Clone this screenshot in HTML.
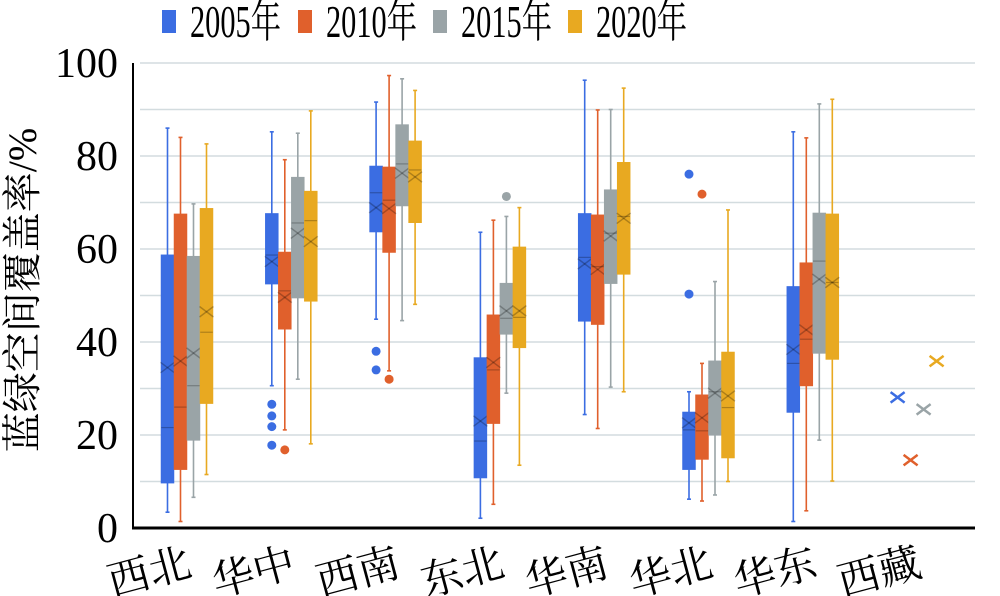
<!DOCTYPE html>
<html><head><meta charset="utf-8"><style>
html,body{margin:0;padding:0;background:#fff;}
svg{display:block;}
text{font-family:"Liberation Serif","Noto Serif CJK SC",serif;fill:#000;}
</style></head><body>
<svg id="chart" width="1000" height="596" viewBox="0 0 1000 596" xmlns="http://www.w3.org/2000/svg"></svg>
<script>
const categories = ["西北","华中","西南","东北","华南","华北","华东","西藏"];
const seriesNames = ["2005年","2010年","2015年","2020年"];
const colors = ["#3b6de2","#e0602c","#9aa4a7","#e8a921"];
const yTicks = [0,20,40,60,80,100];
// each series: per category [min,q1,median,q3,max,mean] (null box = mean only)
const s2005 = [[3.4,9.7,21.6,58.7,86,34.5],[30.6,52.5,58.7,67.6,85.2,57.3],[44.9,63.7,72.1,77.8,91.6,68.9],[2.1,10.8,18.7,36.6,63.6,23],[24.4,44.5,58.2,67.6,96.3,56.8],[6.2,12.6,21.1,24.9,29.3,22.6],[1.4,24.9,35.4,51.9,85.2,38.4],[null,null,null,null,null,28.1]];
const s2010 = [[1.4,12.6,26,67.5,84,35.9],[21.1,42.8,51,59.3,79.2,49.6],[33.8,59.3,70.5,77.6,97.3,68.7],[5.1,22.5,34,45.8,66.2,35.6],[21.4,43.8,56.2,67.3,89.9,55.6],[5.8,14.8,20.9,28.6,35.4,23.7],[3.7,30.6,40.6,57,83.9,42.6],[null,null,null,null,null,14.6]];
const s2015 = [[6.6,18.9,30.6,58.4,69.7,37.6],[32,49.5,65.6,75.4,84.9,63.4],[44.6,69.3,78.3,86.7,96.6,76.3],[29,41.7,45.1,52.6,67,46.7],[30.3,52.6,63.4,72.7,90,62.8],[7.1,20,29.3,35.9,53,29],[18.9,37.6,57.4,67.7,91.2,53.5],[null,null,null,null,null,25.5]];
const s2020 = [[11.5,26.8,42.1,68.7,82.6,46.5],[18.1,48.8,66.1,72.4,89.7,61.6],[48.1,65.7,77,83.2,94.1,75.5],[13.5,38.8,45.3,60.4,68.9,46.7],[29.3,54.6,67,78.6,94.6,66.6],[10,15.1,25.9,37.8,68.4,28.4],[10.1,36.3,52.8,67.5,92.2,52.8],[null,null,null,null,null,35.9]];
const o2005 = [[],[26.6,24.1,21.8,17.8],[38,34],[],[],[76.1,50.3],[],[]];
const o2010 = [[],[16.8],[32],[],[],[71.8],[],[]];
const o2015 = [[],[],[],[71.3],[],[],[],[]];
const o2020 = [[],[],[],[],[],[],[],[]];
const allSeries=[s2005,s2010,s2015,s2020];
const allOut=[o2005,o2010,o2015,o2020];

const svg=document.getElementById('chart');
const NS="http://www.w3.org/2000/svg";
const X0=140,X1=975,Y0=528,Y1=63;
const y=v=>Y0-(v-0)/(100-0)*(Y0-Y1);
const xc=i=>187+i*104.3;
const bw=12.5;
const off=k=>(k-1.5)*13;
function mk(tag,attrs,parent){const e=document.createElementNS(NS,tag);for(const k in attrs)e.setAttribute(k,attrs[k]);(parent||svg).appendChild(e);return e;}

const grid=mk('g',{});


for(let v=10;v<=100;v+=10){const l=mk('line',{x1:X0,x2:X1,y1:y(v),y2:y(v),stroke:'#d3dcdf','stroke-width':1.5},grid);

}
const ya=mk('line',{x1:133,x2:133,y1:Y1,y2:Y0+1,stroke:'#000','stroke-width':2});


const xa=mk('line',{x1:132,x2:X1,y1:Y0,y2:Y0,stroke:'#000','stroke-width':3});


yTicks.forEach(v=>{const t=mk('text',{x:118,y:y(v)+14,'text-anchor':'end','font-size':42});t.textContent=v;

});
const yt=mk('text',{x:0,y:0,'text-anchor':'middle','font-size':40,transform:'translate(36,290) rotate(-90)'});
yt.textContent='蓝绿空间覆盖率/%';


categories.forEach((c,i)=>{const t=mk('text',{x:0,y:0,'text-anchor':'middle','font-size':42,transform:`translate(${xc(i)-34},${586}) rotate(-15)`});t.textContent=c;

});

function cross(cx,cy,r,col,g,w){mk('line',{x1:cx-r,y1:cy-r*0.75,x2:cx+r,y2:cy+r*0.75,stroke:col,'stroke-width':w},g);mk('line',{x1:cx-r,y1:cy+r*0.75,x2:cx+r,y2:cy-r*0.75,stroke:col,'stroke-width':w},g);}

allSeries.forEach((ser,k)=>{
  const col=colors[k];
  ser.forEach((d,i)=>{
    const cx=xc(i)+off(k);
    const g=mk('g',{});
    
    
    if(d[0]!==null){
      mk('line',{x1:cx,x2:cx,y1:y(d[0]),y2:y(d[4]),stroke:col,'stroke-width':1.6},g);
      mk('line',{x1:cx-2,x2:cx+2,y1:y(d[0]),y2:y(d[0]),stroke:col,'stroke-width':1.6},g);
      mk('line',{x1:cx-2,x2:cx+2,y1:y(d[4]),y2:y(d[4]),stroke:col,'stroke-width':1.6},g);
      mk('rect',{x:cx-bw/2,y:y(d[3]),width:bw,height:y(d[1])-y(d[3]),fill:col,stroke:col,'stroke-width':1},g);
      mk('line',{x1:cx-bw/2,x2:cx+bw/2,y1:y(d[2]),y2:y(d[2]),stroke:'rgba(0,0,0,0.25)','stroke-width':1.2},g);
      cross(cx,y(d[5]),7,'rgba(0,0,0,0.25)',g,1.5);
    } else {
      cross(cx,y(d[5]),7,col,g,2.5);
    }
    allOut[k][i].forEach(v=>{const c=mk('circle',{cx:cx,cy:y(v),r:4.5,fill:col},g);
      
      });
  });
});

const lx=[162,298,433,568];
seriesNames.forEach((n,k)=>{
  const g=mk('g',{});
  
  
  mk('rect',{x:lx[k],y:10,width:14,height:23,fill:colors[k]},g);
  const t=mk('text',{x:0,y:0,'font-size':46,transform:`translate(${lx[k]+28},37) scale(0.66,1)`},g);
  t.textContent=n;
});
</script>
</body></html>
